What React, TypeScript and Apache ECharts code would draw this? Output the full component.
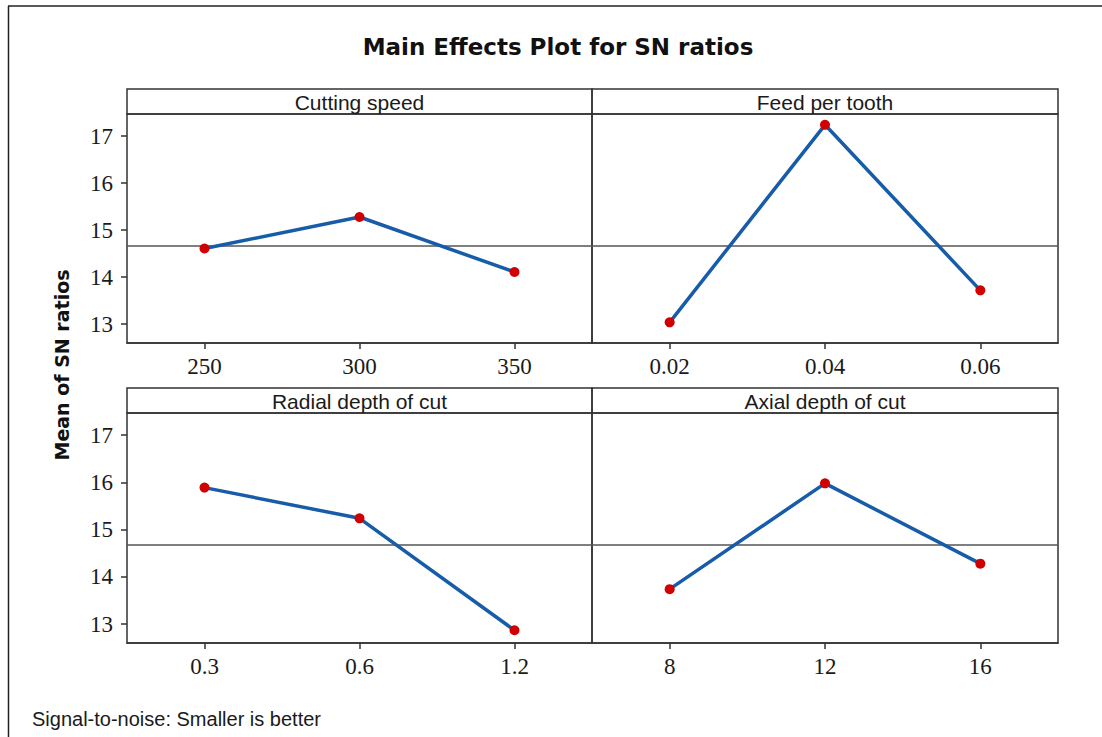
import React, { useEffect, useRef } from "react";
import * as echarts from "echarts";

const speedLevels = ["250", "300", "350"];
const speedSN = [14.61, 15.28, 14.11];
const feedLevels = ["0.02", "0.04", "0.06"];
const feedSN = [13.04, 17.24, 13.72];
const radialLevels = ["0.3", "0.6", "1.2"];
const radialSN = [15.89, 15.24, 12.87];
const axialLevels = ["8", "12", "16"];
const axialSN = [13.74, 15.98, 14.28];
const yTicks = [13, 14, 15, 16, 17];
const panelTitles = ["Cutting speed", "Feed per tooth", "Radial depth of cut", "Axial depth of cut"];

const chartTitle = "Main Effects Plot for SN ratios";
const yAxisTitle = "Mean of SN ratios";
const footnote = "Signal-to-noise: Smaller is better";

export default function App() {
  const ref = useRef<HTMLDivElement>(null);
  useEffect(() => {
    if (!ref.current) return;
    const chart = echarts.init(ref.current, null, { renderer: "svg" });
    const levels = [speedLevels, feedLevels, radialLevels, axialLevels];
    const values = [speedSN, feedSN, radialSN, axialSN];
    const boxes = [
      { left: 127, top: 114, width: 465, height: 229 },
      { left: 592, top: 114, width: 466, height: 229 },
      { left: 127, top: 413, width: 465, height: 230 },
      { left: 592, top: 413, width: 466, height: 230 },
    ];
    const border = "#333";
    const serif = "'Liberation Serif', 'Times New Roman', serif";
    const sans = "'DejaVu Sans', Verdana, sans-serif";
    const lsans = "'Liberation Sans', Arial, sans-serif";

    const grids = boxes.map((b) => ({
      ...b,
      show: true,
      borderColor: border,
      borderWidth: 1.5,
      backgroundColor: "transparent",
      containLabel: false,
      outerBoundsMode: "none",
    }));

    const xAxes = boxes.map((_, i) => ({
      type: "category",
      gridIndex: i,
      data: levels[i],
      boundaryGap: true,
      axisLine: { show: true, lineStyle: { color: border, width: 1.5 } },
      axisTick: { show: true, alignWithLabel: true, length: 6, lineStyle: { color: border, width: 1.5 } },
      axisLabel: { fontFamily: serif, fontSize: 23, color: "#1a1a1a", margin: 12 },
      splitLine: { show: false },
    }));

    const yAxes = boxes.map((_, i) => {
      const isLeft = i % 2 === 0;
      return {
        type: "value",
        gridIndex: i,
        min: 12.6,
        max: 17.47,
        axisLine: { show: false },
        axisTick: {
          show: isLeft,
          length: 6,
          customValues: yTicks,
          lineStyle: { color: border, width: 1.5 },
        },
        axisLabel: {
          show: isLeft,
          customValues: yTicks,
          fontFamily: serif,
          fontSize: 23,
          color: "#1a1a1a",
          margin: 14,
        },
        splitLine: { show: false },
      };
    });

    const series = boxes.map((_, i) => ({
      type: "line",
      xAxisIndex: i,
      yAxisIndex: i,
      data: values[i],
      symbol: "circle",
      symbolSize: 10,
      clip: false,
      lineStyle: { color: "#175ca8", width: 3.5 },
      itemStyle: { color: "#d10000" },
      z: 3,
      markLine: {
        silent: true,
        symbol: "none",
        label: { show: false },
        lineStyle: { color: "#555", width: 1.5, type: "solid" },
        data: [{ type: "average" }],
        z: 1,
      },
    }));

    const headers: any[] = [];
    boxes.forEach((b, i) => {
      headers.push({
        type: "rect",
        shape: { x: b.left, y: b.top - 25, width: b.width, height: 25 },
        style: { fill: "none", stroke: border, lineWidth: 1.5 },
      });
      headers.push({
        type: "text",
        x: b.left + b.width / 2,
        y: b.top - 12,
        style: {
          text: panelTitles[i],
          font: `21px ${lsans}`,
          fill: "#1a1a1a",
          textAlign: "center",
          textVerticalAlign: "middle",
        },
      });
    });

    chart.setOption({
      animation: false,
      backgroundColor: "#fff",
      grid: grids,
      xAxis: xAxes,
      yAxis: yAxes,
      series,
      graphic: [
        {
          type: "line",
          shape: { x1: 8, y1: 6, x2: 1102, y2: 6 },
          style: { stroke: "#222", lineWidth: 1.5 },
        },
        {
          type: "line",
          shape: { x1: 8.5, y1: 6, x2: 8.5, y2: 737 },
          style: { stroke: "#222", lineWidth: 1.5 },
        },
        {
          type: "text",
          x: 558,
          y: 47,
          style: {
            text: chartTitle,
            font: `bold 23px ${sans}`,
            fill: "#111",
            textAlign: "center",
            textVerticalAlign: "middle",
          },
        },
        {
          type: "text",
          x: 62,
          y: 365,
          rotation: Math.PI / 2,
          style: {
            text: yAxisTitle,
            font: `bold 19px ${sans}`,
            fill: "#111",
            textAlign: "center",
            textVerticalAlign: "middle",
          },
        },
        {
          type: "text",
          x: 32,
          y: 719,
          style: {
            text: footnote,
            font: `20px ${lsans}`,
            fill: "#1a1a1a",
            textAlign: "left",
            textVerticalAlign: "middle",
          },
        },
        ...headers,
      ],
    });
    return () => chart.dispose();
  }, []);
  return (
    <div
      ref={ref}
      style={{ position: "fixed", left: 0, top: 0, width: 1102, height: 737, background: "#fff" }}
    />
  );
}
